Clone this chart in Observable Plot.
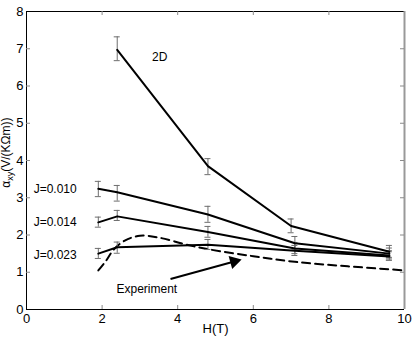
<!DOCTYPE html>
<html>
<head>
<meta charset="utf-8">
<script src="https://cdn.jsdelivr.net/npm/d3@7"></script>
<script src="https://cdn.jsdelivr.net/npm/@observablehq/plot@0.6"></script>
<style>
  body { margin: 0; background: #fff; }
  #chart svg { display: block; }
</style>
</head>
<body>
<div id="chart"></div>
<script>
// ---- Data ----
const xTicks = [0, 2, 4, 6, 8, 10];
const yTicks = [0, 1, 2, 3, 4, 5, 6, 7, 8];

const h2D  = [2.4, 4.8, 7.0, 9.6];
const a2D  = [6.97, 3.85, 2.24, 1.55];
const lo2D = [6.68, 3.62, 2.06, 1.40];
const hi2D = [7.32, 4.05, 2.43, 1.72];

const hJ = [1.9, 2.4, 4.8, 7.1, 9.6];
const aJ010  = [3.24, 3.15, 2.55, 1.78, 1.50];
const loJ010 = [3.03, 2.91, 2.34, 1.60, 1.38];
const hiJ010 = [3.44, 3.33, 2.77, 1.96, 1.65];
const aJ014  = [2.34, 2.50, 2.08, 1.64, 1.45];
const loJ014 = [2.21, 2.39, 1.94, 1.50, 1.33];
const hiJ014 = [2.48, 2.66, 2.23, 1.80, 1.58];
const aJ023  = [1.50, 1.67, 1.74, 1.58, 1.42];
const loJ023 = [1.37, 1.51, 1.61, 1.45, 1.32];
const hiJ023 = [1.64, 1.81, 1.88, 1.72, 1.55];

const expH = [1.9, 2.1, 2.3, 2.6, 3.0, 3.5, 4.2, 4.8, 6.0, 7.1, 8.5, 10.0];
const expA = [1.05, 1.30, 1.60, 1.85, 1.98, 1.93, 1.75, 1.62, 1.43, 1.28, 1.16, 1.05];

const labelText = ["2D", "J=0.010", "J=0.014", "J=0.023", "Experiment"];
const labelH    = [3.32, 0.19, 0.19, 0.19, 2.38];
const labelA    = [6.77, 3.24, 2.34, 1.45, 0.54];

const arrowFrom = [3.81, 0.82];
const arrowTo   = [5.57, 1.31];

// ---- Build tables ----
function series(hs, as, los, his) {
  return hs.map((h, i) => ({h, a: as[i], lo: los ? los[i] : null, hi: his ? his[i] : null}));
}
const curves = [
  series(h2D, a2D, lo2D, hi2D),
  series(hJ, aJ010, loJ010, hiJ010),
  series(hJ, aJ014, loJ014, hiJ014),
  series(hJ, aJ023, loJ023, hiJ023)
];
const allPts = curves.flat();
const expData = series(expH, expA);
const labels = labelText.map((t, i) => ({t, h: labelH[i], a: labelA[i]}));
const arrowData = [{x1: arrowFrom[0], y1: arrowFrom[1], x2: arrowTo[0], y2: arrowTo[1]}];

const font = "'Liberation Sans', Arial, Helvetica, sans-serif";
const barColor = "#6e6e6e";
const tickColor = "#8a8a8a";

const W = 415, H = 339, mL = 26, mR = 11, mT = 11, mB = 30;
// pixel aspect of the arrow, for the head orientation
const pxPerX = (W - mL - mR) / 10, pxPerY = (H - mT - mB) / 8;
const headAngle = Math.atan2(-(arrowTo[1] - arrowFrom[1]) * pxPerY, (arrowTo[0] - arrowFrom[0]) * pxPerX) * 180 / Math.PI;

const plot = Plot.plot({
  width: W,
  height: H,
  marginLeft: mL,
  marginRight: mR,
  marginTop: mT,
  marginBottom: mB,
  style: {fontFamily: font, fontSize: "13px", background: "#fff", color: "#000"},
  x: {domain: [0, 10], label: null},
  y: {domain: [0, 8], label: null},
  marks: [
    // frame
    Plot.ruleX([0], {stroke: "#000"}),
    Plot.ruleY([0], {stroke: "#000"}),
    Plot.ruleY([8], {stroke: "#000"}),
    Plot.ruleX([10], {stroke: "#999", strokeWidth: 2}),
    // inward ticks
    Plot.ruleY(yTicks.slice(1, -1), {y: d => d, x1: 0, x2: 0, insetRight: -4, stroke: tickColor}),
    Plot.ruleY(yTicks.slice(1, -1), {y: d => d, x1: 10, x2: 10, insetLeft: -4, stroke: tickColor}),
    Plot.ruleX(xTicks.slice(1, -1), {x: d => d, y1: 0, y2: 0, insetTop: -4, stroke: tickColor}),
    Plot.ruleX(xTicks.slice(1, -1), {x: d => d, y1: 8, y2: 8, insetBottom: -4, stroke: tickColor}),
    // axes labels
    Plot.axisX(xTicks, {tickSize: 0, tickPadding: 4, label: null, fontSize: 13}),
    Plot.axisY(yTicks, {tickSize: 0, tickPadding: 3, label: null, fontSize: 13}),
    Plot.text(["H(T)"], {frameAnchor: "bottom", dy: 23, fontSize: 13}),
    // experiment (dashed)
    Plot.line(expData, {x: "h", y: "a", stroke: "#000", strokeWidth: 2, strokeDasharray: "8,5", curve: "catmull-rom"}),
    // error bars
    Plot.ruleX(allPts, {x: "h", y1: "lo", y2: "hi", stroke: barColor, strokeWidth: 1}),
    Plot.ruleY(allPts, {y: "lo", x1: "h", x2: "h", insetLeft: -3, insetRight: -3, stroke: barColor, strokeWidth: 1}),
    Plot.ruleY(allPts, {y: "hi", x1: "h", x2: "h", insetLeft: -3, insetRight: -3, stroke: barColor, strokeWidth: 1}),
    // theory curves
    ...curves.map(c => Plot.line(c, {x: "h", y: "a", stroke: "#000", strokeWidth: 2})),
    // arrow: shaft + filled triangular head
    Plot.link(arrowData, {x1: "x1", y1: "y1", x2: "x2", y2: "y2", stroke: "#000", strokeWidth: 2}),
    Plot.dot(arrowData, {x: "x2", y: "y2", symbol: "triangle", r: 5, fill: "#000", stroke: "none", rotate: 90 + headAngle, dx: -3 * Math.cos(headAngle * Math.PI / 180), dy: -3 * Math.sin(headAngle * Math.PI / 180)}),
    // labels
    Plot.text(labels, {x: "h", y: "a", text: "t", textAnchor: "start", fontSize: 12})
  ]
});

const svg = d3.select(plot);
const yS = plot.scale("y");
const yc = yS.apply(4.2);
const t = svg.append("text")
  .attr("transform", `translate(10,${yc}) rotate(-90)`)
  .attr("text-anchor", "middle")
  .attr("font-family", font)
  .attr("font-size", 12)
  .attr("fill", "#000");
t.append("tspan").text("α");
t.append("tspan").attr("font-size", 9).attr("dy", 3).text("xy");
t.append("tspan").attr("dy", -3).text("(V/(KΩm))");

document.getElementById("chart").appendChild(plot);
</script>
</body>
</html>
